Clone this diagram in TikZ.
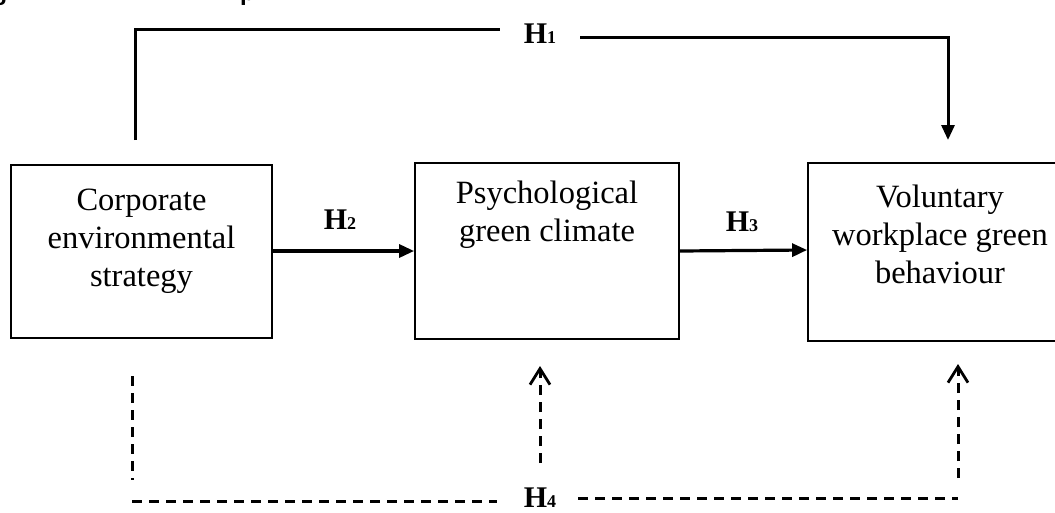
\documentclass[tikz,border=0pt]{standalone}
\usepackage{fontspec}
\setmainfont{Liberation Serif}
\newfontfamily\capfont{Liberation Sans}
\usetikzlibrary{arrows.meta}
\begin{document}
\begin{tikzpicture}[x=1pt,y=-1pt,
  box/.style={draw, line width=1.8pt, inner sep=0pt},
  boxtext/.style={align=center, font=\fontsize{32.5}{38}\selectfont, anchor=base, inner sep=0pt},
  hlab/.style={font=\fontsize{30}{30}\selectfont\bfseries, anchor=base, inner sep=0pt},
  frag/.style={font=\capfont\bfseries\fontsize{24}{24}\selectfont, inner sep=0pt},
  solidline/.style={line width=3pt},
  solidarrow/.style={line width=3.2pt, -{Triangle[length=15pt,width=13pt]}},
  dashline/.style={line width=3pt, dash pattern=on 10pt off 7pt},
  dasharrow/.style={dashline, -{Straight Barb[length=16pt,width=20pt,line width=2.8pt]}},
]
\path[use as bounding box, clip] (0,0) rectangle (1055,512);
\fill[white] (0,0) rectangle (1055,512);

% caption fragments cut off at the top edge
\node[frag, anchor=base] (fragg) at (0,0) {g};
\node[frag, anchor=base west] (fragp) at (240,0) {p};

% boxes
\node[box, minimum width=261pt, minimum height=173pt] (ces) at (141.5,251.5) {};
\node[box, minimum width=264pt, minimum height=176pt] (pgc) at (547,251) {};
\node[box, minimum width=264pt, minimum height=178pt] (vwgb) at (940,252) {};

% multi-line text: base anchor is the baseline of the last line
\node[boxtext] (tces) at (141.5,286) {Corporate\\environmental\\strategy};
\node[boxtext] (tpgc) at (547,241) {Psychological\\green climate};
\node[boxtext] (tvwgb) at (940,283) {Voluntary\\workplace green\\behaviour};

% H2, H3
\node[hlab] (h2) at (340,229) {H{\fontsize{18}{18}\selectfont 2}};
\node[hlab] (h3) at (742,231) {H{\fontsize{18}{18}\selectfont 3}};
\draw[solidarrow] (ces.east |- 0,251) -- (pgc.west |- 0,251);
\draw[solidarrow] (pgc.east |- 0,251) -- (vwgb.west |- 0,250);

% H1
\node[hlab] (h1) at (540,43) {H{\fontsize{18}{18}\selectfont 1}};
\coordinate (h1s) at (135,140);
\coordinate (h1e) at (948,140);
\draw[solidline] (h1s) -- (135,29) -- (500,29);
\draw[solidline, -{Triangle[length=15pt,width=13pt]}] (580,37) -- (h1e |- 0,37) -- (h1e);

% H4
\node[hlab] (h4) at (540,507) {H{\fontsize{18}{18}\selectfont 4}};
\coordinate (h4a) at (132,376);
\coordinate (h4b) at (132,480);
\coordinate (h4c) at (540,463);
\coordinate (h4d) at (540,366);
\coordinate (h4e) at (958,478);
\coordinate (h4f) at (958,364);
\draw[dashline] (h4a) -- (h4b);
\draw[dashline] (132,501) -- (497,501);
\draw[dashline] (578,498) -- (958,498);
\draw[dasharrow] (h4c) -- (h4d);
\draw[dasharrow] (h4e) -- (h4f);
\end{tikzpicture}
\end{document}
